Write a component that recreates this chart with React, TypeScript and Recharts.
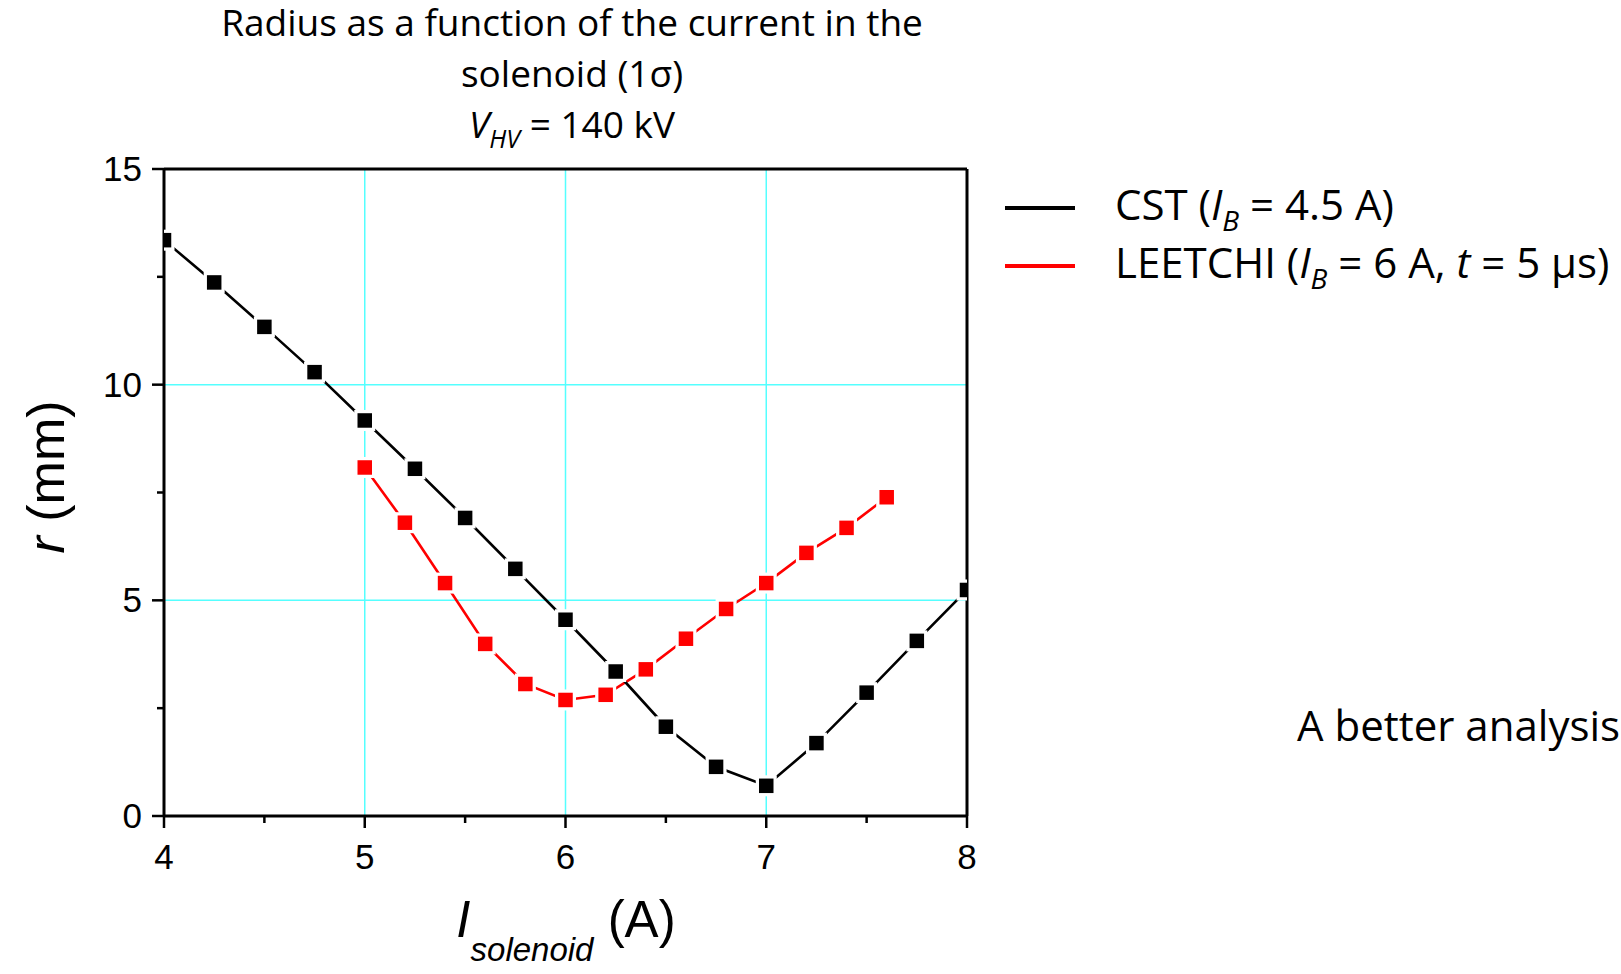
import { LineChart, Line, XAxis, YAxis, ReferenceLine } from "recharts";

// CST simulation (I_B = 4.5 A)
const cstCurrent = [4, 4.25, 4.5, 4.75, 5, 5.25, 5.5, 5.75, 6, 6.25, 6.5, 6.75, 7, 7.25, 7.5, 7.75, 8];
const cstRadius = [13.35, 12.37, 11.34, 10.29, 9.17, 8.05, 6.91, 5.73, 4.55, 3.35, 2.07, 1.14, 0.7, 1.69, 2.86, 4.06, 5.24];

// LEETCHI (I_B = 6 A, t = 5 µs)
const leetchiCurrent = [5, 5.2, 5.4, 5.6, 5.8, 6, 6.2, 6.4, 6.6, 6.8, 7, 7.2, 7.4, 7.6];
const leetchiRadius = [8.08, 6.8, 5.4, 3.99, 3.06, 2.69, 2.81, 3.4, 4.11, 4.8, 5.4, 6.1, 6.68, 7.39];

const xTicks = [4, 4.5, 5, 5.5, 6, 6.5, 7, 7.5, 8];
const yTicks = [0, 2.5, 5, 7.5, 10, 12.5, 15];
const xGrid = [5, 6, 7];
const yGrid = [5, 10];

const cstData = cstCurrent.map((x, i) => ({ x, r: cstRadius[i] }));
const leetchiData = leetchiCurrent.map((x, i) => ({ x, r: leetchiRadius[i] }));

const ARIAL = "'Liberation Sans', Arial, sans-serif";
const BODY = "'Open Sans', sans-serif";
const GRID = "#55FFFF";

function XTick({ x, y, payload }: any) {
  const major = Number.isInteger(payload.value);
  return (
    <g>
      <line x1={x} x2={x} y1={y} y2={y + (major ? 12 : 7)} stroke="#000" strokeWidth={2.5} />
      {major && (
        <text x={x} y={y + 53} textAnchor="middle" fontSize={35} fontFamily={ARIAL} fill="#000">
          {payload.value}
        </text>
      )}
    </g>
  );
}

function YTick({ x, y, payload }: any) {
  const major = payload.value % 5 === 0;
  return (
    <g>
      <line x1={x} x2={x - (major ? 12 : 7)} y1={y} y2={y} stroke="#000" strokeWidth={2.5} />
      {major && (
        <text x={x - 22} y={y + 12} textAnchor="end" fontSize={35} fontFamily={ARIAL} fill="#000">
          {payload.value}
        </text>
      )}
    </g>
  );
}

// square marker with a white halo so the line stops short of it
function SquareDot(color: string) {
  return ({ cx, cy, index }: any) => (
    <g key={index}>
      <rect x={cx - 10.5} y={cy - 10.5} width={21} height={21} fill="#fff" />
      <rect x={cx - 7.25} y={cy - 7.25} width={14.5} height={14.5} fill={color} />
    </g>
  );
}

function XTitle() {
  return (
    <text x={566} y={937} textAnchor="middle" fontFamily={ARIAL} fill="#000">
      <tspan fontSize={51} fontStyle="italic">I</tspan>
      <tspan fontSize={33} fontStyle="italic" dy={24}>solenoid</tspan>
      <tspan fontSize={51} dy={-24}> (A)</tspan>
    </text>
  );
}

function YTitle() {
  return (
    <text x={64} y={477} transform="rotate(-90 64 477)" textAnchor="middle" fontSize={52} fontFamily={ARIAL} fill="#000">
      <tspan fontStyle="italic">r</tspan> (mm)
    </text>
  );
}

function LegendBox() {
  const row = { display: "flex", alignItems: "center", height: 58 } as const;
  const swatch = (c: string) => ({ width: 70, height: 4, background: c, marginRight: 40 });
  const text = { fontFamily: BODY, fontSize: 42, lineHeight: "44px", color: "#000", whiteSpace: "nowrap" } as const;
  const sub = { fontSize: 28, lineHeight: "28px", verticalAlign: "-11px", fontStyle: "italic" } as const;
  return (
    <div style={{ position: "absolute", left: 1005, top: 179 }}>
      <div style={row}>
        <div style={swatch("#000")} />
        <span style={text}>
          CST (<i>I</i><span style={sub}>B</span> = 4.5 A)
        </span>
      </div>
      <div style={row}>
        <div style={swatch("#f00")} />
        <span style={text}>
          LEETCHI (<i>I</i><span style={sub}>B</span> = 6 A, <i>t</i> = 5 µs)
        </span>
      </div>
    </div>
  );
}

export default function App() {
  const line = (top: number) =>
    ({
      position: "absolute",
      left: 122,
      top,
      width: 900,
      textAlign: "center",
      fontFamily: BODY,
      fontSize: 37,
      lineHeight: "44px",
      color: "#000",
      whiteSpace: "nowrap",
    }) as const;
  return (
    <div style={{ position: "absolute", left: 0, top: 0, width: 1621, height: 974, background: "#fff", overflow: "hidden" }}>
      <div style={line(0)}>Radius as a function of the current in the</div>
      <div style={line(51)}>solenoid (1σ)</div>
      <div style={line(102)}>
        <i>V</i>
        <span style={{ fontSize: 25, lineHeight: "25px", fontStyle: "italic", verticalAlign: "-10px" }}>HV</span> = 140 kV
      </div>
      <div style={{ position: "absolute", left: 1297, top: 696, fontFamily: BODY, fontSize: 42, color: "#000", whiteSpace: "nowrap" }}>
        A better analysis
      </div>
      <LegendBox />
      <div style={{ position: "absolute", left: 0, top: 0 }}>
        <LineChart width={1621} height={974} margin={{ top: 169, right: 654, bottom: 98, left: 94 }}>
          <XAxis
            type="number"
            dataKey="x"
            domain={[4, 8]}
            ticks={xTicks}
            interval={0}
            tickSize={0}
            tickMargin={0}
            tick={<XTick />}
            height={60}
            axisLine={{ stroke: "#000", strokeWidth: 3 }}
            allowDataOverflow
            label={<XTitle />}
          />
          <YAxis
            type="number"
            dataKey="r"
            domain={[0, 15]}
            ticks={yTicks}
            interval={0}
            tickSize={0}
            tickMargin={0}
            tick={<YTick />}
            width={70}
            axisLine={{ stroke: "#000", strokeWidth: 3 }}
            allowDataOverflow
            label={<YTitle />}
          />
          {xGrid.map((v) => (
            <ReferenceLine key={"gx" + v} x={v} stroke={GRID} strokeWidth={1.5} />
          ))}
          {yGrid.map((v) => (
            <ReferenceLine key={"gy" + v} y={v} stroke={GRID} strokeWidth={1.5} />
          ))}
          <ReferenceLine y={15} stroke="#000" strokeWidth={3} />
          <ReferenceLine x={8} stroke="#000" strokeWidth={3} />
          <Line
            data={leetchiData}
            dataKey="r"
            stroke="#f00"
            strokeWidth={2.6}
            dot={SquareDot("#f00")}
            isAnimationActive={false}
          />
          <Line
            data={cstData}
            dataKey="r"
            stroke="#000"
            strokeWidth={2.6}
            dot={SquareDot("#000")}
            isAnimationActive={false}
          />
        </LineChart>
      </div>
    </div>
  );
}
